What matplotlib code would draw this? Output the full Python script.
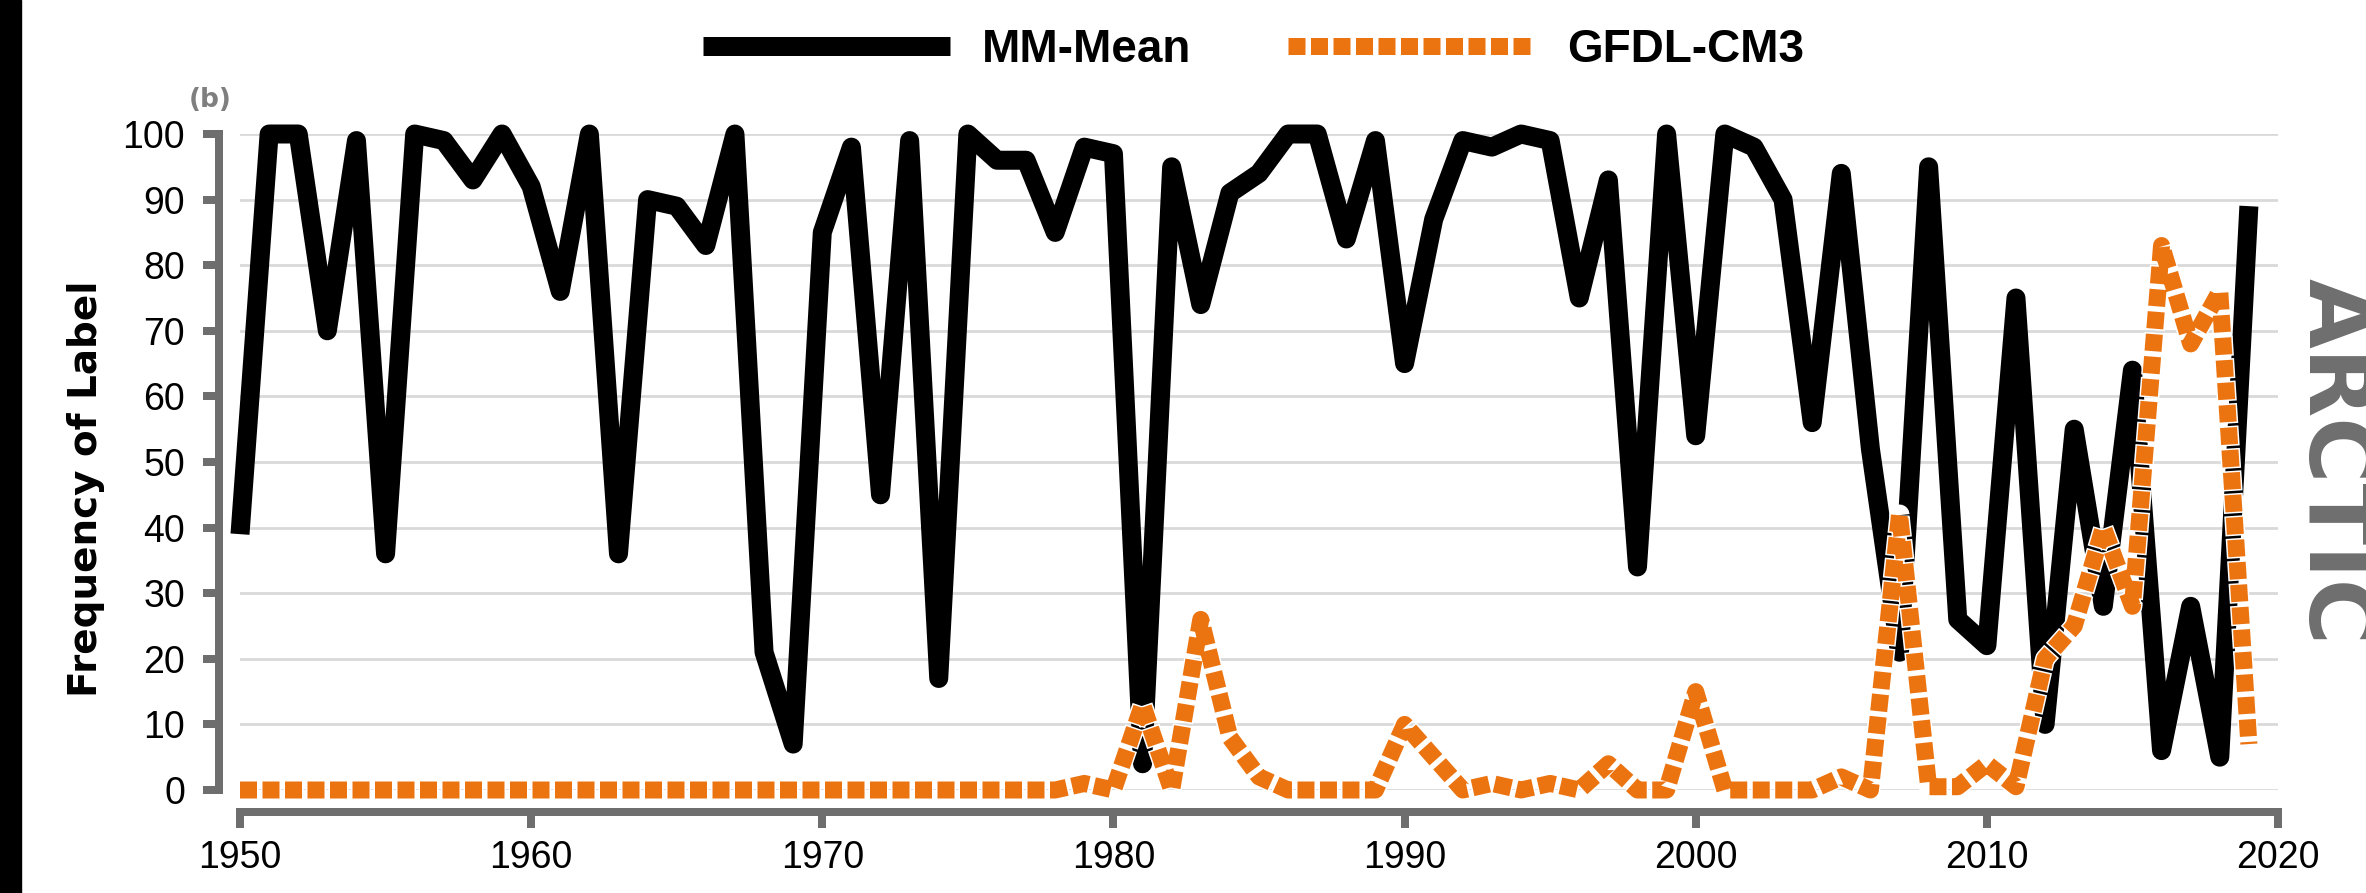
import matplotlib
matplotlib.use("Agg")
import matplotlib.pyplot as plt
from matplotlib.patches import Rectangle

plt.rcParams['lines.scale_dashes'] = False

years = list(range(1950, 2020))
mm_mean = [39, 100, 100, 70, 99, 36, 100, 99, 93, 100,
           92, 76, 100, 36, 90, 89, 83, 100, 21, 7,
           85, 98, 45, 99, 17, 100, 96, 96, 85, 98,
           97, 4, 95, 74, 91, 94, 100, 100, 84, 99,
           65, 87, 99, 98, 100, 99, 75, 93, 34, 100,
           54, 100, 98, 90, 56, 94, 52, 21, 95, 26,
           22, 75, 10, 55, 28, 64, 6, 28, 5, 89]
gfdl_cm3 = [0, 0, 0, 0, 0, 0, 0, 0, 0, 0,
            0, 0, 0, 0, 0, 0, 0, 0, 0, 0,
            0, 0, 0, 0, 0, 0, 0, 0, 0, 1,
            0, 13, 0, 26, 8, 2, 0, 0, 0, 0,
            10, 5, 0, 1, 0, 1, 0, 4, 0, 0,
            15, 0, 0, 0, 0, 2, 0, 42, 0.5, 0.5,
            4, 0.5, 20, 25, 40, 28, 83, 68, 76, 7]
series_names = ["MM-Mean", "GFDL-CM3"]
x_ticks = [1950, 1960, 1970, 1980, 1990, 2000, 2010, 2020]
y_ticks = [0, 10, 20, 30, 40, 50, 60, 70, 80, 90, 100]

W, H = 2366, 893
fig = plt.figure(figsize=(W / 100, H / 100), dpi=100)
ax = fig.add_axes([240 / W, (H - 790) / H, 2038 / W, 656 / H])

PX = 0.72  # points per pixel
gray = '#6E6E6E'
orange = '#EC7410'

ax.plot(years, mm_mean, color='black', lw=19 * PX, solid_joinstyle='round',
        solid_capstyle='butt', clip_on=False, zorder=3, label=series_names[0])

d, g, e = 17 * PX, 5.5 * PX, 1.5 * PX
ax.plot(years, gfdl_cm3, color='white', lw=20 * PX, linestyle=(e, (d + 2 * e, g - 2 * e)),
        dash_joinstyle='round', dash_capstyle='butt', clip_on=False, zorder=4)
lo, = ax.plot(years, gfdl_cm3, color=orange, lw=17 * PX, linestyle=(0, (d, g)),
              dash_joinstyle='round', dash_capstyle='butt', clip_on=False, zorder=5,
              label=series_names[1])

ax.set_xlim(1950, 2020)
ax.set_ylim(0, 100)
ax.set_xticks(x_ticks)
ax.set_yticks(y_ticks)

for s in ['top', 'right']:
    ax.spines[s].set_visible(False)
ax.spines['left'].set_position(('outward', 21 * PX))
ax.spines['bottom'].set_position(('outward', 22 * PX))
for s in ['left', 'bottom']:
    ax.spines[s].set_color(gray)
    ax.spines[s].set_linewidth(8 * PX)
    ax.spines[s].set_capstyle('projecting')

tick_font = ['Liberation Sans Narrow', 'Liberation Sans', 'DejaVu Sans']
ax.tick_params(axis='both', direction='out', length=16 * PX, width=8 * PX,
               color=gray, labelcolor='black', labelsize=27)
ax.tick_params(axis='x', pad=9)
ax.tick_params(axis='y', pad=13)
for lab in ax.get_xticklabels() + ax.get_yticklabels():
    lab.set_family(tick_font)

ax.yaxis.grid(True, color='#D9D9D9', lw=2.0)
ax.set_axisbelow(True)

ax.set_ylabel("Frequency of Label", fontsize=28, fontweight='bold', family='DejaVu Sans')
ax.yaxis.set_label_coords(-0.066, 0.459)

fig.text(210 / W, 1 - 100 / H, "(b)", fontsize=19, fontweight='bold', color='#7F7F7F',
         ha='center', va='center', family='DejaVu Sans')

fig.text(2290 / W, 1 - 461 / H, "ARCTIC", fontsize=65, fontweight='bold', color=gray,
         rotation=-90, ha='left', va='center', family='DejaVu Sans')

fig.patches.append(Rectangle((0, 0), 21 / W, 1, transform=fig.transFigure,
                             color='black', zorder=0))

leg = ax.legend(loc='center', bbox_to_anchor=(1253.5 / W, 1 - 50 / H),
                bbox_transform=fig.transFigure, ncol=2, frameon=False,
                handlelength=5.4, handletextpad=0.7, columnspacing=2.1,
                borderpad=0, prop={'family': 'Liberation Sans', 'weight': 'bold', 'size': 33})

fig.savefig("out.png", dpi=100)
